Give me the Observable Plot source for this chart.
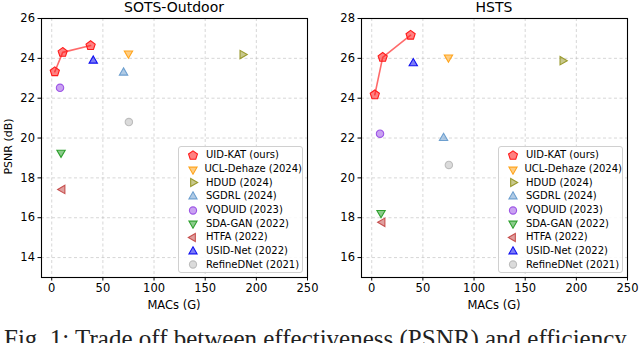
<!DOCTYPE html>
<html><head><meta charset="utf-8">
<script src="https://cdn.jsdelivr.net/npm/d3@7"></script>
<script src="https://cdn.jsdelivr.net/npm/@observablehq/plot@0.6"></script>
<style>
body{margin:0;background:#fff;}
#root{position:relative;width:640px;height:343px;overflow:hidden;font-family:"DejaVu Sans",sans-serif;}
.panel{position:absolute;top:0;}
.ttl{position:absolute;top:-1px;font-size:14px;color:#000;text-align:center;}
.legend{position:absolute;border:1px solid #d0d0d0;border-radius:3px;background:rgba(255,255,255,0.85);box-sizing:border-box;padding-top:1px;}
.row{height:13.7px;display:flex;align-items:center;font-size:10px;white-space:nowrap;}
.row svg{margin-left:7px;margin-right:6px;}
.cap{position:absolute;left:4px;top:326px;font-family:"Liberation Serif",serif;font-size:25px;line-height:1;white-space:nowrap;color:#222;}
.ylab{position:absolute;font-size:11px;transform:rotate(-90deg);transform-origin:center;white-space:nowrap;}
</style></head>
<body><div id="root"></div>
<script>
// ---- data ----
const titles = ["SOTS-Outdoor", "HSTS"];
const katName = "UID-KAT (ours)";
const katMacs = [3, 10.7, 38];
const katSots = [23.33, 24.30, 24.64];
const katHsts = [24.17, 26.05, 27.16];
const methods = ["UCL-Dehaze (2024)", "HDUD (2024)", "SGDRL (2024)", "VQDUID (2023)", "SDA-GAN (2022)", "HTFA (2022)", "USID-Net (2022)", "RefineDNet (2021)"];
const macs = [75, 186.4, 70.2, 8.1, 9.1, 10.5, 40.6, 75.4];
const sotsPsnr = [24.25, 24.19, 23.28, 22.52, 19.27, 17.42, 23.88, 20.80];
const hstsPsnr = [26.05, 25.88, 22.00, 22.22, 18.24, 17.77, 25.75, 20.65];
const colors = ["#ffa41c", "#9a9a2e", "#6d9fcf", "#9d55e6", "#2ea02e", "#c7504f", "#1010f0", "#bdbdbd"];
const markers = ["down", "right", "up", "circle", "down", "left", "up", "circle"];
const katColor = "#ff1a1a";
const xTicks = [0, 50, 100, 150, 200, 250];
const yTicksSots = [14, 16, 18, 20, 22, 24, 26];
const yTicksHsts = [16, 18, 20, 22, 24, 26, 28];
const xLabel = "MACs (G)";
const yLabel = "PSNR (dB)";
const caption = "Fig. 1: Trade off between effectiveness (PSNR) and efficiency";

// ---- symbols ----
function poly(n, rot) {
  return {draw(ctx, size) {
    const R = Math.sqrt(size / Math.PI) * 1.3;
    for (let i = 0; i < n; i++) {
      const a = rot + 2 * Math.PI * i / n;
      const x = R * Math.sin(a), y = -R * Math.cos(a);
      i ? ctx.lineTo(x, y) : ctx.moveTo(x, y);
    }
    ctx.closePath();
  }};
}
const symbols = {
  up: poly(3, 0), down: poly(3, Math.PI), right: poly(3, Math.PI / 2), left: poly(3, -Math.PI / 2),
  pent: poly(5, 0), circle: d3.symbolCircle
};

const root = document.getElementById("root");
const W = 320, H = 315;
const mL = 41, mR = 13, mT = 18, mB = 38;

function panel(idx, kat, vals, yDomain, yTicks) {
  const rows = methods.map((m, i) => ({m, x: macs[i], y: vals[i], c: colors[i], s: symbols[markers[i]]}));
  const krows = katMacs.map((x, i) => ({x, y: kat[i]}));
  const p = Plot.plot({
    width: W, height: H,
    marginLeft: mL, marginRight: mR, marginTop: mT, marginBottom: mB,
    style: {fontFamily: "DejaVu Sans, sans-serif", fontSize: "11.5px", color: "#000", background: "transparent"},
    x: {domain: [-10, 250], ticks: xTicks, tickSize: 3.5, label: null, tickPadding: 3},
    y: {domain: yDomain, ticks: yTicks, tickSize: 3.5, label: null, tickPadding: 3},
    marks: [
      Plot.gridX(xTicks, {stroke: "#b8b8b8", strokeOpacity: 0.7, strokeDasharray: "3,2.5", strokeWidth: 0.8}),
      Plot.gridY(yTicks, {stroke: "#b8b8b8", strokeOpacity: 0.7, strokeDasharray: "3,2.5", strokeWidth: 0.8}),
      Plot.line(krows, {x: "x", y: "y", stroke: katColor, strokeOpacity: 0.65, strokeWidth: 1.6}),
      Plot.dot(rows, {x: "x", y: "y", symbol: "s", fill: "c", stroke: "c", fillOpacity: 0.55, strokeWidth: 1.1, r: 3.7}),
      Plot.dot(krows, {x: "x", y: "y", symbol: () => symbols.pent, fill: katColor, stroke: katColor, fillOpacity: 0.55, strokeWidth: 1.1, r: 3.7}),
      Plot.frame({stroke: "#000", strokeWidth: 1.1})
    ]
  });
  p.classList.add("panel");
  p.style.left = (idx * 320) + "px";
  root.appendChild(p);

  const t = document.createElement("div");
  t.className = "ttl";
  t.style.left = (idx * 320 + mL) + "px";
  t.style.width = (W - mL - mR) + "px";
  t.textContent = titles[idx];
  root.appendChild(t);

  const xl = document.createElement("div");
  xl.className = "ttl";
  xl.style.top = "298px";
  xl.style.fontSize = "11.5px";
  xl.style.left = (idx * 320 + mL) + "px";
  xl.style.width = (W - mL - mR) + "px";
  xl.textContent = xLabel;
  root.appendChild(xl);

  // legend
  const lg = document.createElement("div");
  lg.className = "legend";
  lg.style.left = (idx * 320 + 178) + "px";
  lg.style.top = "146px";
  lg.style.width = "125px";
  lg.style.height = "127px";
  const items = [{m: katName, c: katColor, s: symbols.pent}].concat(rows.map(r => ({m: r.m, c: r.c, s: r.s})));
  for (const it of items) {
    const row = document.createElement("div");
    row.className = "row";
    const sv = d3.create("svg").attr("width", 14).attr("height", 12);
    sv.append("path").attr("d", d3.symbol(it.s, 3.6 * 3.6 * Math.PI)()).attr("transform", "translate(7,6.5)")
      .attr("fill", it.c).attr("fill-opacity", 0.55).attr("stroke", it.c).attr("stroke-width", 1.1);
    row.appendChild(sv.node());
    const sp = document.createElement("span");
    sp.textContent = it.m;
    row.appendChild(sp);
    lg.appendChild(row);
  }
  root.appendChild(lg);
}

panel(0, katSots, sotsPsnr, [13, 26], yTicksSots);
panel(1, katHsts, hstsPsnr, [15, 28], yTicksHsts);

const yl = document.createElement("div");
yl.className = "ylab";
yl.textContent = yLabel;
yl.style.left = "-22px";
yl.style.top = "140px";
yl.style.width = "60px";
yl.style.textAlign = "center";
root.appendChild(yl);

const cap = document.createElement("div");
cap.className = "cap";
cap.textContent = caption;
root.appendChild(cap);
</script></body></html>
